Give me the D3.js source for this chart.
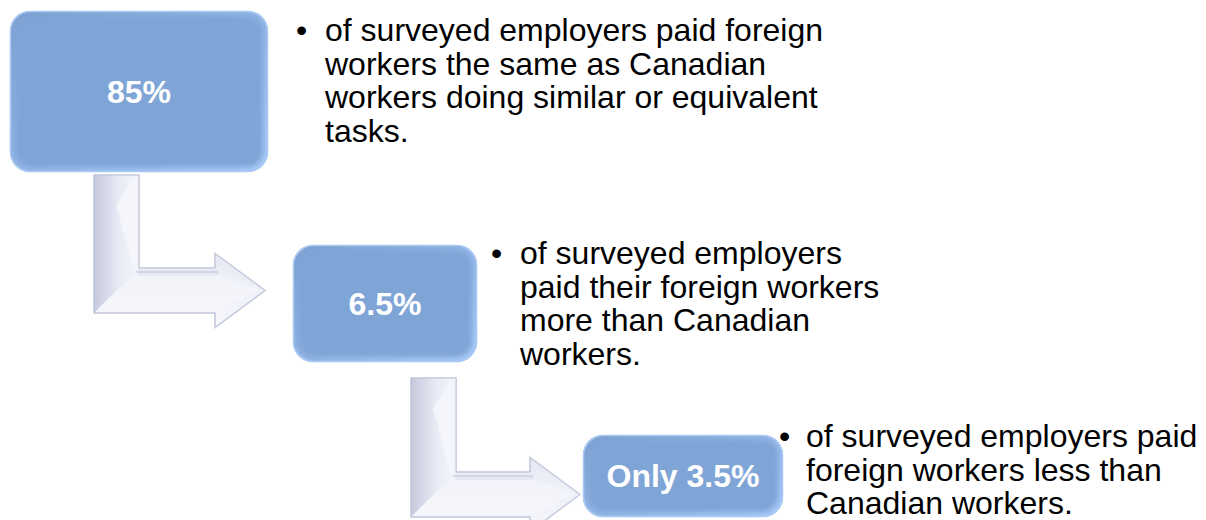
<!DOCTYPE html>
<html>
<head>
<meta charset="utf-8">
<script src="https://cdn.jsdelivr.net/npm/d3@7"></script>
<style>
  body { margin: 0; background: #fff; }
  svg { display: block; }
</style>
</head>
<body>
<div id="chart"></div>
<script>
/* DATA */
const stepLabels = ["85%", "6.5%", "Only 3.5%"];
const stepText = [
  ["of surveyed employers paid foreign", "workers the same as Canadian", "workers doing similar or equivalent", "tasks."],
  ["of surveyed employers", "paid their foreign workers", "more than Canadian", "workers."],
  ["of surveyed employers paid", "foreign workers less than", "Canadian workers."]
];

/* LAYOUT */
const width = 1206, height = 520;
const boxes = [
  {x: 10, y: 11, w: 258, h: 161},
  {x: 293, y: 245, w: 184, h: 117},
  {x: 583, y: 435, w: 200, h: 82}
];
const textPos = [
  {bx: 296, x: 325, y: 41, lh: 33.5},
  {bx: 491, x: 520, y: 264, lh: 33.5},
  {bx: 779, x: 806, y: 447, lh: 33.5}
];
const arrows = [
  {xl: 94, top: 175, bottom: 313, baseX: 215, tipX: 265},
  {xl: 411, top: 378, bottom: 517, baseX: 530, tipX: 580}
];
const thick = 45, headHalf = 37;

const svg = d3.select("#chart").append("svg")
  .attr("width", width)
  .attr("height", height);

const defs = svg.append("defs");

const boxGrad = defs.append("linearGradient").attr("id", "boxEdge")
  .attr("x1", 0).attr("y1", 0).attr("x2", 1).attr("y2", 1);
boxGrad.append("stop").attr("offset", "0%").attr("stop-color", "#7c9fd0");
boxGrad.append("stop").attr("offset", "100%").attr("stop-color", "#a7cbfa");

const arrowV = defs.append("linearGradient").attr("id", "arrowV")
  .attr("x1", 0).attr("y1", 0).attr("x2", 1).attr("y2", 0);
arrowV.append("stop").attr("offset", "0%").attr("stop-color", "#c6c9dc");
arrowV.append("stop").attr("offset", "55%").attr("stop-color", "#e8eaf5");
arrowV.append("stop").attr("offset", "100%").attr("stop-color", "#f4f5fb");

const arrowH = defs.append("linearGradient").attr("id", "arrowH")
  .attr("x1", 0).attr("y1", 0).attr("x2", 0).attr("y2", 1);
arrowH.append("stop").attr("offset", "0%").attr("stop-color", "#d6d9e8");
arrowH.append("stop").attr("offset", "100%").attr("stop-color", "#f7f8fd");

const blur = defs.append("filter").attr("id", "soft")
  .attr("x", "-10%").attr("y", "-10%").attr("width", "120%").attr("height", "120%");
blur.append("feGaussianBlur").attr("stdDeviation", 2.5);

/* ARROWS */
const arrowPath = a => {
  const xr = a.xl + thick, ht = a.bottom - thick, cy = a.bottom - thick / 2;
  return `M${a.xl},${a.top} L${xr},${a.top} L${xr},${ht} L${a.baseX},${ht}
    L${a.baseX},${cy - headHalf} L${a.tipX},${cy} L${a.baseX},${cy + headHalf}
    L${a.baseX},${a.bottom} L${a.xl},${a.bottom} Z`;
};

const ag = svg.selectAll("g.arrow").data(arrows).join("g").attr("class", "arrow");
ag.append("path")
  .attr("d", arrowPath)
  .attr("fill", "url(#arrowH)")
  .attr("stroke", "#e2e4f0")
  .attr("stroke-width", 2);
// vertical shaft shading
ag.append("path")
  .attr("d", a => `M${a.xl},${a.top} L${a.xl + thick},${a.top} L${a.xl + thick},${a.bottom - thick} L${a.xl},${a.bottom} Z`)
  .attr("fill", "url(#arrowV)");
// bevel facets
ag.append("path")
  .attr("d", a => `M${a.xl + thick - 6},${a.top + 3} L${a.xl + thick - 3},${a.top + 3} L${a.xl + thick - 3},${a.bottom - thick + 3} L${a.xl + thick - 6},${a.bottom - thick}
    L${a.xl + 22},${a.top + 30} Z`)
  .attr("fill", "#f5f6fc").attr("opacity", 0.9);
ag.append("path")
  .attr("d", a => `M${a.xl + thick - 3},${a.bottom - thick + 3} L${a.baseX + 3},${a.bottom - thick + 3} L${a.baseX + 3},${a.bottom - thick + 8} L${a.xl + thick},${a.bottom - thick + 8} Z`)
  .attr("fill", "#c9cce0").attr("opacity", 0.7);
ag.append("path")
  .attr("d", a => `M${a.xl + 4},${a.bottom - 4} L${a.xl + thick - 3},${a.bottom - thick + 5} L${a.baseX},${a.bottom - thick + 5} L${a.tipX - 6},${a.bottom - thick / 2} L${a.baseX + 6},${a.bottom - 4} Z`)
  .attr("fill", "#f7f8fd").attr("opacity", 0.55);
ag.append("path")
  .attr("d", arrowPath)
  .attr("fill", "none")
  .attr("stroke", "#bcc0d6")
  .attr("stroke-width", 1);

/* BOXES */
const bg = svg.selectAll("g.box").data(boxes).join("g").attr("class", "box");
bg.append("rect")
  .attr("x", d => d.x).attr("y", d => d.y)
  .attr("width", d => d.w).attr("height", d => d.h)
  .attr("rx", 20).attr("ry", 20)
  .attr("fill", "url(#boxEdge)");
bg.append("rect")
  .attr("x", d => d.x + 5).attr("y", d => d.y + 5)
  .attr("width", d => d.w - 10).attr("height", d => d.h - 10)
  .attr("rx", 16).attr("ry", 16)
  .attr("fill", "#7fa5d7")
  .attr("filter", "url(#soft)");
bg.append("rect")
  .attr("x", d => d.x + 0.5).attr("y", d => d.y + 0.5)
  .attr("width", d => d.w - 1).attr("height", d => d.h - 1)
  .attr("rx", 20).attr("ry", 20)
  .attr("fill", "none")
  .attr("stroke", "#a9c9f3")
  .attr("stroke-width", 1.5);

bg.append("text")
  .attr("x", d => d.x + d.w / 2)
  .attr("y", d => d.y + d.h / 2 + 11)
  .attr("text-anchor", "middle")
  .style("font-family", "'Liberation Sans', Arial, sans-serif")
  .style("font-size", "32px")
  .style("font-weight", "bold")
  .style("fill", "#ffffff")
  .text((d, i) => stepLabels[i]);

/* BULLET TEXT */
const tg = svg.selectAll("g.desc").data(stepText).join("g").attr("class", "desc")
  .style("font-family", "'Liberation Sans', Arial, sans-serif")
  .style("font-size", "32px")
  .style("fill", "#000");
tg.append("text")
  .attr("x", (d, i) => textPos[i].bx)
  .attr("y", (d, i) => textPos[i].y)
  .text("•");
tg.each(function(lines, i) {
  d3.select(this).selectAll("text.line").data(lines).join("text")
    .attr("class", "line")
    .attr("x", textPos[i].x)
    .attr("y", (l, j) => textPos[i].y + j * textPos[i].lh)
    .text(l => l);
});
</script>
</body>
</html>
